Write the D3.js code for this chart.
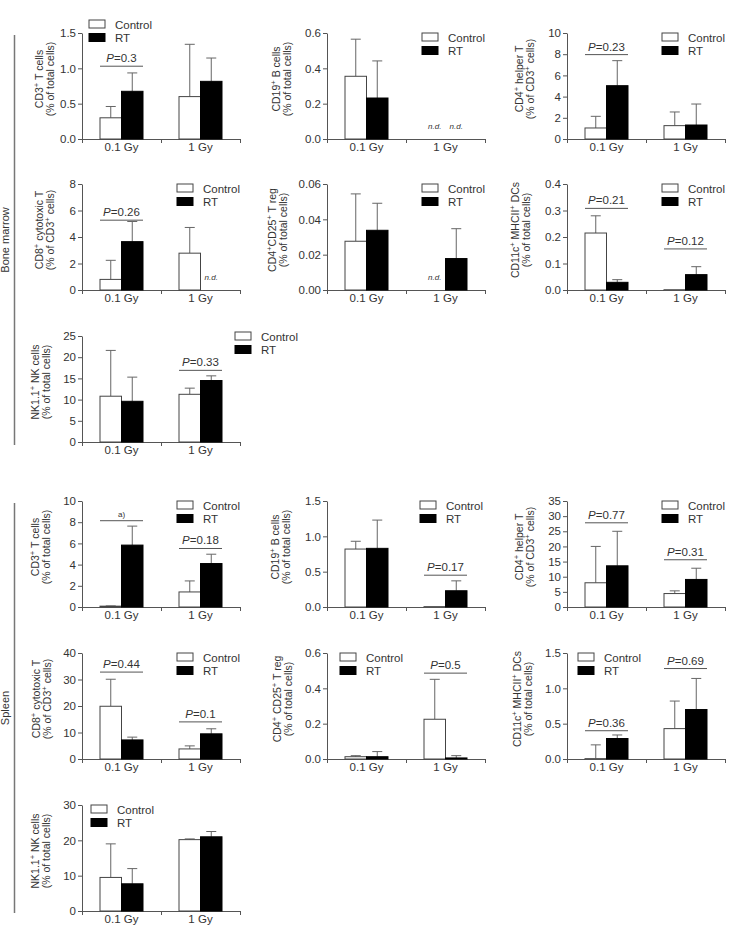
<!DOCTYPE html>
<html>
<head>
<meta charset="utf-8">
<script src="https://cdn.jsdelivr.net/npm/d3@7"></script>
<style>
    body { margin: 0; background: #fff; }
    svg text { font-family: "Liberation Sans", Arial, sans-serif; fill: #333; }
</style>
</head>
<body>
<svg id="chart" width="732" height="930"></svg>
<script>
// data (mean and error size per dose group)
const groups = ["0.1 Gy", "1 Gy"];
const seriesNames = ["Control", "RT"];
const sections = ["Bone marrow", "Spleen"];

const titleLine1 = ["CD3^+ T cells", "CD19^+ B cells", "CD4^+ helper T", "CD8^+ cytotoxic T", "CD4^+CD25^+ T reg",
    "CD11c^+ MHCII^+ DCs", "NK1.1^+ NK cells", "CD3^+ T cells", "CD19^+ B cells", "CD4^+ helper T",
    "CD8^+ cytotoxic T", "CD4^+ CD25^+ T reg", "CD11c^+ MHCII^+ DCs", "NK1.1^+ NK cells"];
const titleLine2 = ["(% of total cells)", "(% of total cells)", "(% of CD3^+ cells)", "(% of CD3^+ cells)", "(% of total cells)",
    "(% of total cells)", "(% of total cells)", "(% of total cells)", "(% of total cells)", "(% of CD3^+ cells)",
    "(% of CD3^+ cells)", "(% of total cells)", "(% of total cells)", "(% of total cells)"];

const yMax = [1.5, 0.6, 10, 8, 0.06, 0.4, 25, 10, 1.5, 35, 40, 0.6, 1.5, 30];
const yStep = [0.5, 0.2, 2, 2, 0.02, 0.1, 5, 2, 0.5, 5, 10, 0.2, 0.5, 10];
const yDecimals = [1, 1, 0, 0, 2, 1, 0, 0, 1, 0, 0, 1, 1, 0];

// null = n.d.
const controlMean = [[0.30, 0.60], [0.355, null], [1.04, 1.26], [0.80, 2.78], [0.0276, null], [0.215, 0.001], [10.8, 11.25],
    [0.08, 1.42], [0.82, 0.005], [8.0, 4.44], [19.9, 3.8], [0.013, 0.225], [0.005, 0.43], [9.5, 20.2]];
const controlErr = [[0.16, 0.74], [0.21, null], [1.10, 1.29], [1.44, 1.94], [0.0268, null], [0.065, 0], [10.8, 1.45],
    [0.02, 1.04], [0.11, 0], [12.0, 0.89], [10.2, 1.15], [0.006, 0.226], [0.195, 0.39], [9.5, 0.2]];
const rtMean = [[0.675, 0.816], [0.232, null], [5.03, 1.32], [3.65, null], [0.0338, 0.0178], [0.029, 0.058], [9.6, 14.5],
    [5.84, 4.10], [0.83, 0.23], [13.6, 9.1], [7.2, 9.5], [0.013, 0.006], [0.29, 0.70], [7.7, 21.0]];
const rtErr = [[0.26, 0.33], [0.21, null], [2.36, 1.98], [1.52, null], [0.0153, 0.0169], [0.010, 0.030], [5.7, 1.1],
    [1.79, 0.88], [0.40, 0.14], [11.4, 3.7], [1.05, 1.9], [0.029, 0.013], [0.05, 0.44], [4.3, 1.5]];

// [group index, bracket height in data units, label]
const pTests = [[[0, 1.03, "0.3"]], [], [[0, 7.96, "0.23"]], [[0, 5.27, "0.26"]], [], [[0, 0.308, "0.21"], [1, 0.155, "0.12"]],
    [[1, 16.9, "0.33"]], [[0, 8.14, "a)"], [1, 5.52, "0.18"]], [[1, 0.45, "0.17"]], [[0, 27.8, "0.77"], [1, 15.6, "0.31"]],
    [[0, 32.8, "0.44"], [1, 14.0, "0.1"]], [[1, 0.486, "0.5"]], [[0, 0.40, "0.36"], [1, 1.28, "0.69"]], []];

// layout
const colX = [82, 327, 567];
const rowY = [33, 184, 336, 501, 653, 805];
const cells = [[0, 0], [0, 1], [0, 2], [1, 0], [1, 1], [1, 2], [2, 0], [3, 0], [3, 1], [3, 2], [4, 0], [4, 1], [4, 2], [5, 0]];
const legendPos = [[7, -13], [95, 0], [95, 0], [95, 0], [95, 0], [95, 0], [153, -4], [95, 0], [93, 0], [95, 0], [95, 0], [13, 0], [11, 0], [9, 0]];
const titleOffset = [-28, -36, -33, -28, -40, -37, -32, -32, -37, -33, -31, -35, -35, -32];
const plotW = 158, plotH = 106, barW = 21.5;
const axisColor = "#555";

const svg = d3.select("#chart");

// text with "^+" turned into superscript plus signs
const addRich = (sel, str) => {
    str.split(/(\^\+)/).forEach(part => {
        if (part === "^+") {
            sel.append("tspan").attr("baseline-shift", "super").attr("font-size", "0.72em").text("+");
        } else if (part) {
            sel.append("tspan").text(part);
        }
    });
};

titleLine1.forEach((title, i) => {
    const [r, c] = cells[i];
    const g = svg.append("g").attr("transform", `translate(${colX[c]},${rowY[r]})`);

    const x = d3.scaleBand().domain(groups).range([0, plotW]);
    const y = d3.scaleLinear().domain([0, yMax[i]]).range([plotH, 0]);

    // y axis
    const yAxis = d3.axisLeft(y)
        .tickValues(d3.range(0, yMax[i] + yStep[i] / 2, yStep[i]))
        .tickFormat(d3.format(`.${yDecimals[i]}f`))
        .tickSize(4)
        .tickPadding(2)
        .tickSizeOuter(0);
    const ya = g.append("g").call(yAxis);
    ya.selectAll("path, line").attr("stroke", axisColor);
    ya.selectAll("text").style("font-size", "11.5px").attr("fill", "#333");

    // x axis: boundary ticks + group labels
    const xb = d3.scaleLinear().domain([0, groups.length]).range([0, plotW]);
    const xa = g.append("g").attr("transform", `translate(0,${plotH})`)
        .call(d3.axisBottom(xb).tickValues([0, 1, 2]).tickFormat("").tickSize(4).tickSizeOuter(0));
    xa.selectAll("path, line").attr("stroke", axisColor);
    const xl = g.append("g").attr("transform", `translate(0,${plotH})`)
        .call(d3.axisBottom(x).tickSize(0).tickPadding(4));
    xl.select(".domain").remove();
    xl.selectAll("text").style("font-size", "11.5px").attr("fill", "#333");

    // bars, error bars, n.d.
    const bars = [
        { mean: controlMean[i], err: controlErr[i], fill: "#fff", stroke: "#444", off: -barW },
        { mean: rtMean[i], err: rtErr[i], fill: "#000", stroke: "#000", off: 0 }
    ];
    groups.forEach((grp, gi) => {
        const cx = x(grp) + x.bandwidth() / 2;
        bars.forEach(b => {
            const m = b.mean[gi];
            const bx = cx + b.off;
            if (m === null) {
                g.append("text")
                    .attr("x", bx + barW / 2)
                    .attr("y", plotH - 10)
                    .attr("text-anchor", "middle")
                    .style("font-size", "8px")
                    .style("font-style", "italic")
                    .attr("fill", "#555")
                    .text("n.d.");
                return;
            }
            const e = b.err[gi];
            if (e > 0) {
                g.append("line")
                    .attr("x1", bx + barW / 2).attr("x2", bx + barW / 2)
                    .attr("y1", y(m)).attr("y2", y(m + e))
                    .attr("stroke", "#666").attr("stroke-width", 1);
                g.append("line")
                    .attr("x1", bx + barW / 2 - 5).attr("x2", bx + barW / 2 + 5)
                    .attr("y1", y(m + e)).attr("y2", y(m + e))
                    .attr("stroke", "#666").attr("stroke-width", 1);
            }
            g.append("rect")
                .attr("x", bx)
                .attr("y", y(m))
                .attr("width", barW)
                .attr("height", Math.max(0.5, plotH - y(m)))
                .attr("fill", b.fill)
                .attr("stroke", b.stroke)
                .attr("stroke-width", 1);
        });
    });

    // p value brackets
    pTests[i].forEach(([gi, h, label]) => {
        const cx = x(groups[gi]) + x.bandwidth() / 2;
        g.append("line")
            .attr("x1", cx - barW).attr("x2", cx + barW)
            .attr("y1", y(h)).attr("y2", y(h))
            .attr("stroke", axisColor).attr("stroke-width", 1);
        const t = g.append("text")
            .attr("x", cx)
            .attr("y", y(h) - 4)
            .attr("text-anchor", "middle");
        if (isNaN(parseFloat(label))) {
            t.style("font-size", "8px").text(label);
        } else {
            t.style("font-size", "11.5px");
            t.append("tspan").style("font-style", "italic").text("P");
            t.append("tspan").text("=" + label);
        }
    });

    // y title, two lines
    const ty = plotH / 2 - 7;
    const t2 = g.append("text")
        .attr("transform", `translate(${titleOffset[i]},${ty}) rotate(-90)`)
        .attr("text-anchor", "middle")
        .style("font-size", "10.5px");
    addRich(t2, titleLine2[i]);
    const t1 = g.append("text")
        .attr("transform", `translate(${titleOffset[i] - 11},${ty}) rotate(-90)`)
        .attr("text-anchor", "middle")
        .style("font-size", "10.5px");
    addRich(t1, title);

    // legend
    const [lx, ly] = legendPos[i];
    seriesNames.forEach((s, si) => {
        g.append("rect")
            .attr("x", lx).attr("y", ly + si * 13.5)
            .attr("width", 16).attr("height", 8)
            .attr("fill", si === 0 ? "#fff" : "#000")
            .attr("stroke", si === 0 ? "#444" : "#000");
        g.append("text")
            .attr("x", lx + 26).attr("y", ly + si * 13.5 + 8.5)
            .style("font-size", "11.5px")
            .text(s);
    });
});

// section brackets on the left
const sectionSpan = [[35, 445], [503, 913]];
sections.forEach((s, i) => {
    const [y1, y2] = sectionSpan[i];
    svg.append("line")
        .attr("x1", 14.5).attr("x2", 14.5)
        .attr("y1", y1).attr("y2", y2)
        .attr("stroke", "#777").attr("stroke-width", 1.5);
    svg.append("text")
        .attr("transform", `translate(9,${(y1 + y2) / 2}) rotate(-90)`)
        .attr("text-anchor", "middle")
        .style("font-size", "11px")
        .text(s);
});
</script>
</body>
</html>
